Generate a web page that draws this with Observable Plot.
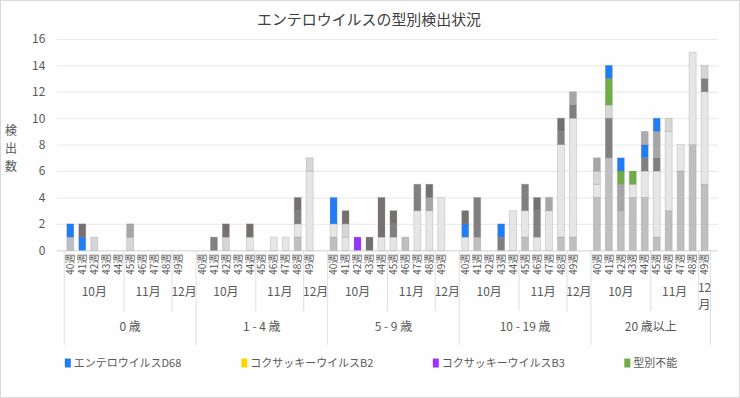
<!DOCTYPE html>
<html>
<head>
<meta charset="utf-8">
<script src="https://cdn.jsdelivr.net/npm/d3@7"></script>
<script src="https://cdn.jsdelivr.net/npm/@observablehq/plot@0.6"></script>
<style>
html, body { margin: 0; padding: 0; background: #ffffff; }
#chart { width: 740px; height: 398px; position: relative; overflow: hidden; box-sizing: border-box; border: 1px solid #d9d9d9; background: #fdfefd; }
#chart svg { position: absolute; left: -1px; top: -1px; }
</style>
</head>
<body>
<div id="chart"></div>
<script>
// ---------- categories ----------
const title = "エンテロウイルスの型別検出状況";
const yTitle = "検出数";
const ages = ["0 歳", "1 - 4 歳", "5 - 9 歳", "10 - 19 歳", "20 歳以上"];
const weeks = ["40週", "41週", "42週", "43週", "44週", "45週", "46週", "47週", "48週", "49週"];
const weekMonth = ["10月", "10月", "10月", "10月", "10月", "11月", "11月", "11月", "11月", "12月"];
const yTicks = [0, 2, 4, 6, 8, 10, 12, 14, 16];

// ---------- series values (rows: age groups, cols: weeks 40..49) ----------
// unlabeled grey series (types not shown in the visible legend), bottom to top
const greyA = [
  [1,0,0,0,0,0,0,0,0,0],
  [0,0,0,0,0,0,0,0,1,0],
  [1,0,0,0,0,0,1,0,0,0],
  [0,1,0,0,0,1,0,0,1,1],
  [4,7,3,4,4,1,3,6,8,5]
];
const greyB = [
  [0,0,0,0,0,0,0,0,0,0],
  [0,0,0,0,1,0,1,1,1,6],
  [1,1,0,0,1,1,0,3,3,4],
  [1,0,0,0,3,2,1,3,7,9],
  [1,0,0,1,2,5,6,2,7,7]
];
const greyC = [
  [0,0,0,0,0,0,0,0,0,0],
  [0,1,0,0,0,0,0,0,1,0],
  [0,0,0,0,0,1,0,2,0,0],
  [0,3,0,1,0,2,2,0,1,1],
  [0,3,0,0,1,1,0,0,0,1]
];
const greyD = [
  [0,0,1,0,0,1,0,0,0,0],
  [0,0,1,0,0,0,0,0,0,1],
  [0,1,0,0,0,0,0,0,0,0],
  [0,0,0,0,0,0,0,0,0,0],
  [1,1,0,0,0,0,1,0,0,1]
];
const greyE = [
  [0,0,0,0,0,1,0,0,0,0],
  [0,0,0,0,0,0,0,0,0,0],
  [0,0,0,0,0,0,0,0,1,0],
  [0,0,0,0,0,0,0,1,0,1],
  [1,0,2,0,0,2,0,0,0,0]
];
const untyped = [
  [0,0,0,0,0,0,0,0,0,0],
  [0,0,0,0,0,0,0,0,0,0],
  [0,0,0,0,0,0,0,0,0,0],
  [0,0,0,0,0,0,0,0,0,0],
  [0,2,1,1,0,0,0,0,0,0]
];
const cvB3 = [
  [0,0,0,0,0,0,0,0,0,0],
  [0,0,0,0,0,0,0,0,0,0],
  [0,0,1,0,0,0,0,0,0,0],
  [0,0,0,0,0,0,0,0,0,0],
  [0,0,0,0,0,0,0,0,0,0]
];
const cvB2 = [
  [0,0,0,0,0,0,0,0,0,0],
  [0,0,0,0,0,0,0,0,0,0],
  [0,0,0,0,0,0,0,0,0,0],
  [0,0,0,0,0,0,0,0,0,0],
  [0,0,0,0,0,0,0,0,0,0]
];
const evD68 = [
  [1,1,0,0,0,0,0,0,0,0],
  [0,0,0,0,0,0,0,0,0,0],
  [2,0,0,0,0,0,0,0,0,0],
  [1,0,0,1,0,0,0,0,0,0],
  [0,1,1,0,1,1,0,0,0,0]
];
const greyF = [
  [0,1,0,0,0,0,0,0,0,0],
  [0,0,1,0,1,0,0,0,1,0],
  [0,1,0,1,3,1,0,0,1,0],
  [1,0,0,0,0,0,1,0,1,0],
  [0,0,0,0,0,0,0,0,0,0]
];
const greyG = [
  [0,0,0,0,0,0,0,0,0,0],
  [0,0,0,0,0,0,0,0,0,0],
  [0,0,0,0,0,0,0,0,0,0],
  [0,0,0,0,0,0,0,0,0,0],
  [0,0,0,0,1,0,0,0,0,0]
];

const legendNames = ["エンテロウイルスD68", "コクサッキーウイルスB2", "コクサッキーウイルスB3", "型別不能"];

// series in stacking order (bottom -> top)
const series = [
  {name: "greyA", values: greyA, color: "#bfbfbf"},
  {name: "greyB", values: greyB, color: "#e7e6e6"},
  {name: "greyC", values: greyC, color: "#808080"},
  {name: "greyD", values: greyD, color: "#d6d6d6"},
  {name: "greyE", values: greyE, color: "#a6a6a6"},
  {name: "型別不能", values: untyped, color: "#70ad47"},
  {name: "コクサッキーウイルスB3", values: cvB3, color: "#9933ff"},
  {name: "コクサッキーウイルスB2", values: cvB2, color: "#ffd700"},
  {name: "エンテロウイルスD68", values: evD68, color: "#1f7ef5"},
  {name: "greyF", values: greyF, color: "#767171"},
  {name: "greyG", values: greyG, color: "#aeaaaa"}
];

// ---------- build tables ----------
const slots = [];
ages.forEach((age, a) => {
  weeks.forEach((wk, w) => slots.push({key: a + "|" + w, age, label: wk, month: weekMonth[w]}));
  if (a < ages.length - 1) slots.push({key: a + "|x", age, label: "", month: "12月"});
});
const labelOf = new Map(slots.map(d => [d.key, d.label]));

const rows = [];
series.forEach(s => s.values.forEach((arr, a) => arr.forEach((v, w) => {
  if (v > 0) rows.push({key: a + "|" + w, series: s.name, value: v});
})));

const FONT = "'Noto Sans CJK JP', 'Noto Sans', sans-serif";
const TXT = "#595959";

const plot = Plot.plot({
  width: 740,
  height: 398,
  marginLeft: 57,
  marginRight: 20,
  marginTop: 39,
  marginBottom: 147,
  style: {fontFamily: FONT, background: "transparent", color: TXT, overflow: "visible"},
  x: {type: "band", domain: slots.map(d => d.key), paddingInner: 0.43, paddingOuter: 0.215, axis: null, label: null},
  y: {domain: [0, 16], axis: null, label: null},
  color: {domain: series.map(s => s.name), range: series.map(s => s.color)},
  marks: [
    Plot.gridY(yTicks, {stroke: "#e8e8e8", strokeOpacity: 1}),
    Plot.ruleY([0], {stroke: "#d9d9d9"}),
    Plot.barY(rows, Plot.stackY({x: "key", y: "value", z: "series", fill: "series",
      stroke: "#7f7f7f", strokeOpacity: 0.3, strokeWidth: 0.8})),
    Plot.axisY(yTicks, {tickSize: 0, tickPadding: 12, fontSize: 12, fill: TXT, label: null}),
    Plot.axisX({tickSize: 0, tickRotate: -90, tickPadding: 3, fontSize: 10, fill: TXT, label: null,
      tickFormat: k => labelOf.get(k)})
  ]
});

document.getElementById("chart").appendChild(plot);

// ---------- multi-level category axis, title, legend ----------
const svg = d3.select(plot);
const xs = plot.scale("x");
const step = xs.step, bw = xs.bandwidth;
const leftOf = k => xs.apply(k) - (step - bw) / 2;
const y0 = plot.scale("y").apply(0);

const g = svg.append("g").attr("font-family", FONT).attr("fill", TXT).attr("text-anchor", "middle");
const lineColor = "#e0e0e0";

d3.groups(slots, d => d.age).forEach(([age, ss], ai, arr) => {
  const ax0 = leftOf(ss[0].key), ax1 = leftOf(ss[ss.length - 1].key) + step;
  // age dividers
  g.append("line").attr("x1", ax0).attr("x2", ax0).attr("y1", y0).attr("y2", 346).attr("stroke", lineColor);
  if (ai === arr.length - 1)
    g.append("line").attr("x1", ax1).attr("x2", ax1).attr("y1", y0).attr("y2", 346).attr("stroke", lineColor);
  g.append("text").attr("x", (ax0 + ax1) / 2).attr("y", 332).attr("font-size", 12).text(age);
  const months = d3.groups(ss, d => d.month);
  months.forEach(([m, ms], mi) => {
    const mx0 = leftOf(ms[0].key), mx1 = leftOf(ms[ms.length - 1].key) + step;
    if (mi < months.length - 1)
      g.append("line").attr("x1", mx1).attr("x2", mx1).attr("y1", y0).attr("y2", 312).attr("stroke", lineColor);
    const cx = (mx0 + mx1) / 2;
    if (mx1 - mx0 < 20) {
      g.append("text").attr("x", cx).attr("y", 293).attr("font-size", 12).text(m.slice(0, -1));
      g.append("text").attr("x", cx).attr("y", 310).attr("font-size", 12).text(m.slice(-1));
    } else {
      g.append("text").attr("x", cx).attr("y", 297).attr("font-size", 12).text(m);
    }
  });
});

// title
svg.append("text").attr("x", 370).attr("y", 25).attr("text-anchor", "middle")
  .attr("font-family", FONT).attr("font-size", 15)
  .attr("fill", "#404040").text(title);

// y title (stacked vertical characters)
const yt = svg.append("text").attr("font-family", FONT).attr("font-size", 12).attr("fill", TXT)
  .attr("text-anchor", "middle");
Array.from(yTitle).forEach((ch, i) => yt.append("tspan").attr("x", 11).attr("y", 135 + i * 18).text(ch));

// legend
const colorScale = plot.scale("color");
const legendX = [65, 242, 434, 626];
legendNames.forEach((n, i) => {
  const lg = svg.append("g").attr("transform", `translate(${legendX[i]},364)`);
  lg.append("rect").attr("x", 0).attr("y", -4.5).attr("width", 6).attr("height", 9)
    .attr("fill", colorScale.apply(n));
  lg.append("text").attr("x", 9).attr("y", 4).attr("text-anchor", "start")
    .attr("font-family", FONT).attr("font-size", 11).attr("fill", TXT).text(n);
});
</script>
</body>
</html>
